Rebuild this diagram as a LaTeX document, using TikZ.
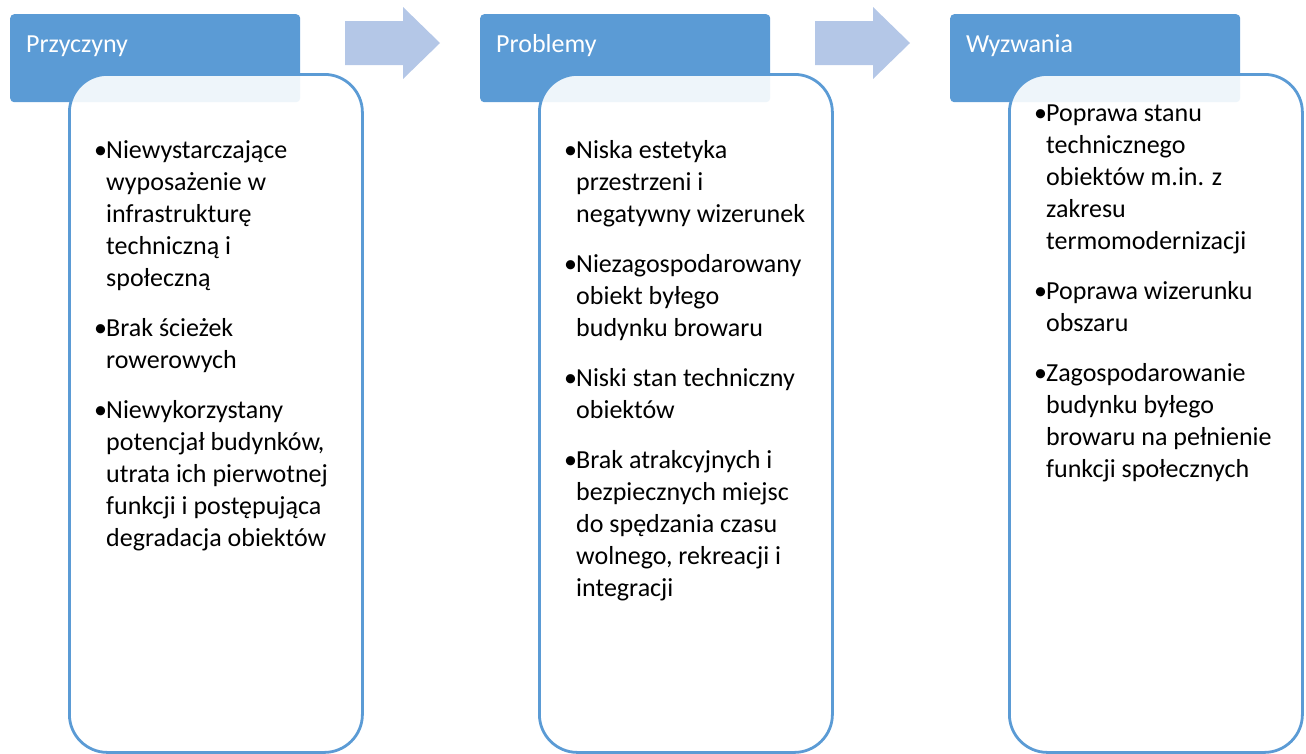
\documentclass[tikz,border=0pt]{standalone}
\usepackage{fontspec}
\setmainfont{Carlito}
\definecolor{hdblue}{HTML}{5B9BD5}
\definecolor{arrblue}{HTML}{B4C7E7}
\definecolor{txtblack}{HTML}{000000}
\newcommand{\bulitem}[1]{\hangindent=14pt\hangafter=1\noindent\makebox[14pt][l]{\hspace{2pt}•}#1\par}
\newenvironment{bullist}{\begin{minipage}[t]{270pt}\fontsize{26}{32}\selectfont\setlength{\parskip}{18pt}\let\\\newline}{\end{minipage}}
\tikzset{
  headbox/.style={fill=hdblue, rounded corners=4pt, minimum width=290pt, minimum height=88pt, anchor=north west, inner sep=0pt},
  bodybox/.style={draw=hdblue, line width=2.8pt, fill=white, fill opacity=0.9, rounded corners=38pt, minimum width=293pt, minimum height=678pt, anchor=north west, inner sep=0pt},
  headtext/.style={text=white, font=\fontsize{26}{30}\selectfont, anchor=base west, inner sep=0pt},
  listtext/.style={text=txtblack, anchor=base west, inner sep=0pt},
  blockarrow/.style={fill=arrblue}
}
\begin{document}
\begin{tikzpicture}[x=1pt,y=-1pt]
\useasboundingbox (0,0) rectangle (1306,753);
% column 1
\node[headbox] (hd1) at (10,14) {};
\node[bodybox] (bd1) at (68,73) {};
\node[headtext] (ht1) at (26,52) {Przyczyny};
\node[listtext] (lt1) at (92,158) {\begin{bullist}
\bulitem{Niewystarczające\\wyposażenie w\\infrastrukturę\\techniczną i\\społeczną}
\bulitem{Brak ścieżek\\rowerowych}
\bulitem{Niewykorzystany\\potencjał budynków,\\utrata ich pierwotnej\\funkcji i postępująca\\degradacja obiektów}
\end{bullist}};
% column 2
\node[headbox] (hd2) at (480,14) {};
\node[bodybox] (bd2) at (538,73) {};
\node[headtext] (ht2) at (496,52) {Problemy};
\node[listtext] (lt2) at (562,158) {\begin{bullist}
\bulitem{Niska estetyka\\przestrzeni i\\negatywny wizerunek}
\bulitem{Niezagospodarowany\\obiekt byłego\\budynku browaru}
\bulitem{Niski stan techniczny\\obiektów}
\bulitem{Brak atrakcyjnych i\\bezpiecznych miejsc\\do spędzania czasu\\wolnego, rekreacji i\\integracji}
\end{bullist}};
% column 3
\node[headbox] (hd3) at (950,14) {};
\node[bodybox] (bd3) at (1008,73) {};
\node[headtext] (ht3) at (966,52) {Wyzwania};
\node[listtext] (lt3) at (1032,121) {\begin{bullist}
\bulitem{Poprawa stanu\\technicznego\\obiektów m.in. z\\zakresu\\termomodernizacji}
\bulitem{Poprawa wizerunku\\obszaru}
\bulitem{Zagospodarowanie\\budynku byłego\\browaru na pełnienie\\funkcji społecznych}
\end{bullist}};
% block arrows
\fill[blockarrow] (345,21) -- (403,21) -- (403,7) -- (440,43) -- (403,79) -- (403,65) -- (345,65) -- cycle;
\fill[blockarrow] (815,21) -- (873,21) -- (873,7) -- (910,43) -- (873,79) -- (873,65) -- (815,65) -- cycle;
\end{tikzpicture}
\end{document}
